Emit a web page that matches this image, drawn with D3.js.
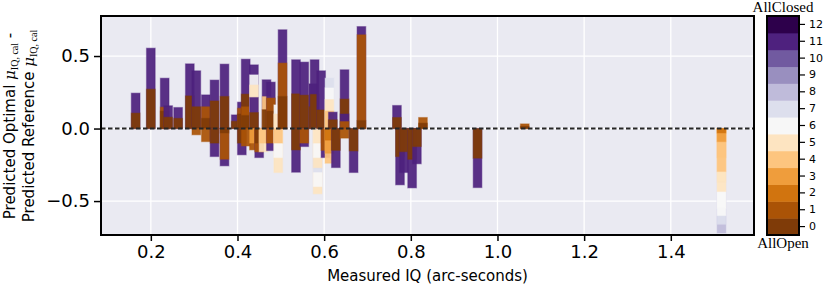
<!DOCTYPE html>
<html>
<head>
<meta charset="utf-8">
<script src="https://cdn.jsdelivr.net/npm/d3@7"></script>
<style>
  body { margin: 0; background: #fff; }
  text { font-family: "DejaVu Sans", sans-serif; }
</style>
</head>
<body>
<div id="chart"></div>
<script>

// measured IQ of each observation (arc-seconds)
var iq = [0.165, 0.200, 0.232, 0.240, 0.263, 0.290, 0.305, 0.327, 0.347, 0.370,
          0.396, 0.410, 0.419, 0.438, 0.450, 0.460, 0.467, 0.477, 0.494, 0.504,
          0.535, 0.554, 0.575, 0.578, 0.585, 0.593, 0.603, 0.612, 0.620, 0.627,
          0.647, 0.668, 0.686, 0.768, 0.775, 0.784, 0.803, 0.814, 0.828, 0.954,
          1.063, 1.517]

// predicted difference for each observation, as [value, vent level] in draw order
var deltas = [
  [[0.244, 11], [0.106, 0]],
  [[0.554, 11], [0.271, 0]],
  [[0.347, 11], [0.147, 1], [0.12, 0]],
  [[0.157, 11], [0.078, 0]],
  [[0.145, 11], [0.07, 0]],
  [[0.446, 11], [0.225, 0]],
  [[0.398, 11], [0.15, 0], [-0.043, 1]],
  [[0.232, 11], [0.15, 1], [0.07, 0], [-0.09, 1]],
  [[0.334, 11], [0.19, 0], [-0.193, 11], [-0.1, 0]],
  [[0.444, 11], [0.221, 0], [-0.257, 11], [-0.211, 1], [-0.03, 0]],
  [[0.094, 11], [0.05, 0]],
  [[0.182, 11], [0.14, 1], [0.1, 0], [-0.181, 11], [-0.1, 0]],
  [[0.478, 11], [0.237, 0], [0.15, 1], [0.09, 0], [-0.12, 1]],
  [[0.439, 11], [0.37, 6], [0.3, 5], [0.214, 11], [0.11, 0], [-0.147, 1], [-0.1, 3]],
  [[-0.2, 11], [-0.16, 1], [-0.1, 0]],
  [[-0.16, 5], [-0.1, 4]],
  [[0.336, 11], [0.22, 4], [0.13, 0]],
  [[0.32, 11], [0.21, 1], [0.12, 0], [-0.152, 11], [-0.1, 1]],
  [[0.163, 6], [0.1, 5], [-0.303, 5], [-0.2, 6], [-0.1, 4]],
  [[0.681, 11], [0.451, 1], [0.221, 0]],
  [[0.474, 11], [0.239, 0], [-0.301, 11], [-0.147, 0]],
  [[0.458, 11], [0.23, 0], [-0.124, 11], [-0.1, 1]],
  [[0.308, 11], [0.15, 0]],
  [[0.474, 11], [0.235, 0]],
  [[-0.45, 5], [-0.4, 6], [-0.3, 7], [-0.27, 5], [-0.2, 6], [-0.1, 5]],
  [[0.398, 11], [0.128, 0]],
  [[-0.2, 11], [-0.15, 1]],
  [[0.347, 7], [0.28, 6], [0.2, 5], [0.12, 4], [-0.239, 4], [-0.17, 3], [-0.08, 2]],
  [[0.113, 11], [0.06, 0]],
  [[-0.269, 11], [-0.15, 0]],
  [[0.405, 11], [0.203, 0], [0.1, 11], [0.048, 1], [-0.066, 1]],
  [[-0.303, 11], [-0.154, 0]],
  [[0.703, 11], [0.646, 1], [0.055, 0]],
  [[0.159, 11], [0.076, 0]],
  [[-0.388, 11], [-0.193, 0]],
  [[-0.303, 11], [-0.159, 0]],
  [[-0.409, 11], [-0.212, 0]],
  [[-0.243, 11], [-0.124, 0]],
  [[0.076, 1], [0.037, 0]],
  [[-0.407, 11], [-0.204, 0]],
  [[0.032, 1], [0.015, 0]],
  [[-0.72, 8], [-0.66, 7], [-0.6, 6], [-0.55, 6], [-0.434, 5], [-0.37, 5], [-0.296, 4], [-0.2, 4], [-0.09, 3], [-0.03, 2]]
]

var xTicks = [0.2, 0.4, 0.6, 0.8, 1.0, 1.2, 1.4]
var yTicks = [-0.5, 0.0, 0.5]
var levels = d3.range(0, 13)
var puor = ['#7f3b08', '#b35806', '#e08214', '#fdb863', '#fee0b6', '#f7f7f7',
            '#d8daeb', '#b2abd2', '#8073ac', '#542788', '#2d004b']

var W = 830, H = 286
var plot = { left: 101, right: 754, top: 16, bottom: 235 }
var cbar = { left: 767, right: 799 }
var barW = 0.02

var svg = d3.select('#chart').append('svg')
  .attr('width', W)
  .attr('height', H)

var x = d3.scaleLinear().domain([0.085, 1.592]).range([plot.left, plot.right])
var y = d3.scaleLinear().domain([-0.734, 0.776]).range([plot.bottom, plot.top])

// PuOr sampled at 13 steps, like a discrete colormap
var cmap = d3.scaleLinear()
  .domain(d3.range(puor.length).map(function(i) { return i / (puor.length - 1) }))
  .range(puor)
  .interpolate(d3.interpolateRgb)
function color(k) { return cmap(k / 12) }

// background + grid
svg.append('rect')
  .attr('x', plot.left).attr('y', plot.top)
  .attr('width', plot.right - plot.left)
  .attr('height', plot.bottom - plot.top)
  .attr('fill', '#eaeaf2')

svg.selectAll('.gx')
  .data(xTicks)
  .enter().append('line')
  .attr('x1', function(d) { return x(d) }).attr('x2', function(d) { return x(d) })
  .attr('y1', plot.top).attr('y2', plot.bottom)
  .attr('stroke', '#fff').attr('stroke-width', 1.3)

svg.selectAll('.gy')
  .data(yTicks)
  .enter().append('line')
  .attr('y1', function(d) { return y(d) }).attr('y2', function(d) { return y(d) })
  .attr('x1', plot.left).attr('x2', plot.right)
  .attr('stroke', '#fff').attr('stroke-width', 1.3)

// bars
var g = svg.append('g')
iq.forEach(function(xv, i) {
  g.selectAll(null)
    .data(deltas[i])
    .enter().append('rect')
    .attr('x', x(xv - barW / 2))
    .attr('width', x(xv + barW / 2) - x(xv - barW / 2))
    .attr('y', function(d) { return y(Math.max(0, d[0])) })
    .attr('height', function(d) { return Math.abs(y(d[0]) - y(0)) })
    .attr('fill', function(d) { return color(d[1]) })
    .attr('fill-opacity', 0.93)
    .attr('stroke', function(d) { return color(d[1]) })
    .attr('stroke-opacity', 0.4)
    .attr('stroke-width', 1.2)
})

// zero line
svg.append('line')
  .attr('x1', plot.left).attr('x2', plot.right)
  .attr('y1', y(0)).attr('y2', y(0))
  .attr('stroke', '#262626')
  .attr('stroke-width', 2)
  .attr('stroke-dasharray', '4.5,2.5')

// frame
svg.append('rect')
  .attr('x', plot.left).attr('y', plot.top)
  .attr('width', plot.right - plot.left)
  .attr('height', plot.bottom - plot.top)
  .attr('fill', 'none')
  .attr('stroke', '#000').attr('stroke-width', 2)

// axes
var xAxis = svg.append('g')
  .attr('transform', 'translate(0,' + plot.bottom + ')')
  .call(d3.axisBottom(x).tickValues(xTicks).tickFormat(d3.format('.1f')).tickSize(6).tickPadding(4))
var yAxis = svg.append('g')
  .attr('transform', 'translate(' + plot.left + ',0)')
  .call(d3.axisLeft(y).tickValues(yTicks).tickFormat(d3.format('.1f')).tickSize(7).tickPadding(4))

;[xAxis, yAxis].forEach(function(a) {
  a.select('.domain').remove()
  a.selectAll('line').attr('stroke', '#000').attr('stroke-width', 1.5)
  a.selectAll('text').attr('fill', '#000').style('font-size', '18px')
    .style('font-family', '"DejaVu Sans", sans-serif')
})

svg.append('text')
  .attr('x', (plot.left + plot.right) / 2)
  .attr('y', 281)
  .attr('text-anchor', 'middle')
  .style('font-size', '15px')
  .text('Measured IQ (arc-seconds)')

// y label, two lines
var yl = [
  { pos: 15, words: 'Predicted Optimal ', tail: ' -' },
  { pos: 34, words: 'Predicted Reference ', tail: '' }
]
yl.forEach(function(l) {
  var t = svg.append('text')
    .attr('transform', 'translate(' + l.pos + ',126) rotate(-90)')
    .attr('text-anchor', 'middle')
    .style('font-size', '15px')
  t.append('tspan').text(l.words)
  t.append('tspan').text('μ')
    .style('font-family', '"DejaVu Serif", serif')
    .style('font-style', 'italic')
  t.append('tspan').text('IQ, cal')
    .attr('dy', 3)
    .style('font-family', '"Liberation Serif", serif')
    .style('font-size', '10px')
  if (l.tail) t.append('tspan').text(l.tail).attr('dy', -3)
})

// colorbar
var cy = d3.scaleBand().domain(levels.slice().reverse()).range([plot.top, plot.bottom])
svg.selectAll('.cb')
  .data(levels)
  .enter().append('rect')
  .attr('x', cbar.left)
  .attr('width', cbar.right - cbar.left)
  .attr('y', function(d) { return cy(d) })
  .attr('height', cy.bandwidth() + 0.5)
  .attr('fill', function(d) { return color(d) })

svg.append('rect')
  .attr('x', cbar.left).attr('y', plot.top)
  .attr('width', cbar.right - cbar.left)
  .attr('height', plot.bottom - plot.top)
  .attr('fill', 'none')
  .attr('stroke', '#000').attr('stroke-width', 2)

var cAxis = svg.append('g')
  .attr('transform', 'translate(' + cbar.right + ',0)')
  .call(d3.axisRight(cy).tickSize(6).tickPadding(4))
cAxis.select('.domain').remove()
cAxis.selectAll('line').attr('stroke', '#000').attr('stroke-width', 1.2)
cAxis.selectAll('text').attr('fill', '#000').style('font-size', '11px')

svg.append('text')
  .attr('x', (cbar.left + cbar.right) / 2).attr('y', 12)
  .attr('text-anchor', 'middle')
  .style('font-family', '"Liberation Serif", serif')
  .style('font-size', '15px')
  .text('AllClosed')

svg.append('text')
  .attr('x', (cbar.left + cbar.right) / 2).attr('y', 248)
  .attr('text-anchor', 'middle')
  .style('font-family', '"Liberation Serif", serif')
  .style('font-size', '15px')
  .text('AllOpen')

</script>
</body>
</html>
